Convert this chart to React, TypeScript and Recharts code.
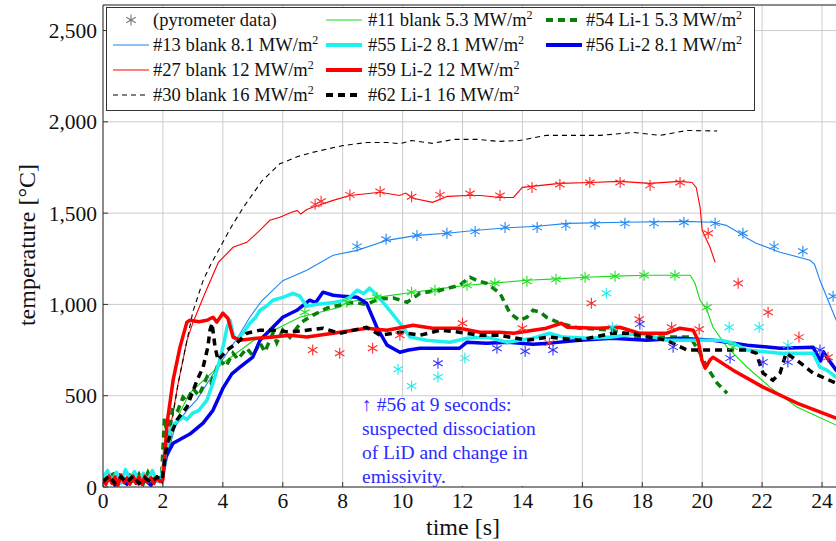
import React from "react";
import {
  ComposedChart,
  Line,
  Scatter,
  XAxis,
  YAxis,
  CartesianGrid,
  ReferenceLine,
  Label,
} from "recharts";

type Pt = [number, number];

const FONT = "Liberation Serif";

const timeTicks = [0, 2, 4, 6, 8, 10, 12, 14, 16, 18, 20, 22, 24];
const tempTicks = [0, 500, 1000, 1500, 2000, 2500];

// #11 blank 5.3 MW/m2
const s11: Pt[] = [
  [0, 40], [0.3, 70], [0.6, 30], [0.9, 65], [1.2, 25], [1.5, 70], [1.8, 35], [2.0, 45],
  [2.3, 300], [2.6, 420], [2.9, 514], [3.47, 602], [4.0, 678], [5.0, 800], [5.9, 875],
  [6.57, 930], [7.9, 985], [8.14, 1012], [9.2, 1040], [10.35, 1067], [11.2, 1085],
  [12.15, 1105], [13.1, 1118], [14.15, 1132], [15.1, 1140], [16.15, 1149], [17.1, 1155],
  [18.15, 1160], [19.6, 1160], [19.76, 1116], [19.93, 1023], [20.16, 968], [20.36, 875],
  [20.83, 766], [21.5, 656], [22.26, 547], [23.16, 438], [24.47, 339], [25, 310],
];

// #13 blank 8.1 MW/m2
const s13: Pt[] = [
  [0, 30], [0.4, 55], [0.8, 20], [1.2, 50], [1.6, 25], [2.0, 35], [2.2, 200], [2.4, 330],
  [2.8, 420], [3.14, 480], [3.6, 600], [4.0, 700], [4.5, 820], [4.9, 930], [5.3, 1020],
  [6.0, 1130], [6.8, 1187], [7.68, 1269], [8.48, 1296], [9.48, 1351], [10.48, 1378],
  [11.48, 1390], [12.48, 1406], [13.5, 1420], [14.5, 1428], [15.5, 1444], [17.4, 1450],
  [19.36, 1455], [20.36, 1450], [20.8, 1433], [21.2, 1395], [21.5, 1362], [21.8, 1335],
  [22.6, 1286], [23.6, 1242], [23.75, 1220], [23.93, 1132], [24.16, 1039], [24.47, 914],
  [25, 700],
];

// #27 blank 12 MW/m2
const s27: Pt[] = [
  [0, 40], [0.5, 25], [1, 55], [1.5, 30], [2.0, 45], [2.2, 280], [2.5, 560], [2.8, 800],
  [3.0, 900], [3.4, 1060], [3.85, 1230], [4.34, 1313], [4.8, 1340], [5.2, 1400],
  [5.57, 1461], [5.9, 1477], [6.3, 1505], [6.48, 1515], [6.6, 1495], [6.8, 1520],
  [7.0, 1532], [7.68, 1570], [8.24, 1597], [9.25, 1614], [9.9, 1597], [10.1, 1610],
  [10.35, 1581], [11.0, 1559], [11.5, 1592], [12.15, 1597], [12.6, 1597], [13.25, 1586],
  [13.7, 1586], [14.0, 1641], [15.25, 1663], [16.25, 1668], [17.25, 1674], [18.25, 1663],
  [19.26, 1674], [19.66, 1668], [19.8, 1641], [19.93, 1532], [20.0, 1406], [20.26, 1313],
  [20.43, 1231],
];

// #30 blank 16 MW/m2
const s30: Pt[] = [
  [0, 35], [0.5, 55], [1, 25], [1.5, 50], [2.0, 40], [2.1, 150], [2.5, 560], [3.0, 960],
  [3.34, 1130], [3.6, 1220], [4.0, 1340], [4.3, 1430], [4.7, 1535], [5.3, 1675],
  [5.9, 1770], [6.5, 1810], [7.0, 1833], [8.0, 1870], [8.8, 1887], [9.5, 1887],
  [9.9, 1880], [10.3, 1898], [11.0, 1882], [11.7, 1904], [12.5, 1904], [13.2, 1893],
  [13.9, 1898], [14.8, 1926], [16.6, 1926], [17.7, 1942], [18.6, 1926], [19.5, 1953],
  [20.5, 1950],
];

// #54 Li-1 5.3 MW/m2
const s54: Pt[] = [
  [0, 60], [0.15, 20], [0.3, 90], [0.45, 30], [0.6, 75], [0.75, 15], [0.9, 85], [1.05, 25],
  [1.2, 70], [1.35, 20], [1.5, 80], [1.65, 30], [1.8, 65], [1.95, 35], [2.05, 380],
  [2.15, 280], [2.34, 438], [2.5, 420], [2.67, 492], [2.8, 470], [3.0, 540], [3.2, 500],
  [3.47, 602], [3.6, 570], [3.9, 695], [4.1, 660], [4.34, 733], [4.5, 700], [4.8, 760],
  [5.0, 720], [5.24, 790], [5.4, 740], [5.67, 842], [5.8, 790], [6.0, 860], [6.24, 820],
  [6.6, 900], [7.0, 940], [7.47, 980], [8.0, 1000], [8.4, 1010], [8.8, 1000], [9.2, 1030],
  [9.7, 1035], [10.15, 1012], [10.58, 1061], [11.25, 1078], [11.9, 1105], [12.25, 1149],
  [12.5, 1130], [12.8, 1116], [13.25, 1061], [13.58, 952], [13.9, 913], [14.15, 930],
  [14.35, 968], [14.6, 957], [14.8, 930], [15.25, 897], [15.9, 870], [17.0, 859],
  [17.9, 821], [18.8, 821], [19.6, 821], [19.93, 733], [20.16, 656], [20.5, 569],
  [20.83, 514],
];

// #55 Li-2 8.1 MW/m2
const s55: Pt[] = [
  [0, 50], [0.15, 90], [0.3, 30], [0.45, 80], [0.6, 20], [0.75, 95], [0.9, 40], [1.05, 85],
  [1.2, 25], [1.35, 75], [1.5, 35], [1.65, 90], [1.8, 30], [1.95, 60], [2.1, 200],
  [2.24, 312], [2.4, 350], [2.67, 383], [2.8, 370], [3.0, 405], [3.2, 420], [3.47, 476],
  [3.67, 569], [3.9, 695], [4.05, 800], [4.14, 875], [4.24, 913], [4.35, 830], [4.47, 804],
  [4.67, 842], [4.9, 897], [5.1, 930], [5.24, 968], [5.45, 990], [5.67, 1023], [6.0, 1039],
  [6.34, 1061], [6.57, 1045], [6.8, 990], [7.1, 1000], [7.47, 1006], [7.68, 1010],
  [8.0, 1020], [8.24, 1039], [8.48, 1078], [8.7, 1060], [8.9, 1089], [9.14, 1050],
  [9.48, 985], [9.91, 897], [10.25, 821], [10.8, 804], [11.58, 793], [12.15, 815],
  [12.8, 821], [13.5, 793], [14.35, 815], [14.9, 842], [15.35, 821], [16.2, 815],
  [17.0, 821], [17.9, 842], [18.8, 804], [19.7, 804], [20.6, 804], [21.0, 790], [21.5, 750],
  [22.6, 733], [23.7, 733], [23.8, 700], [23.93, 656], [24.16, 640], [24.47, 602], [25, 570],
];

// #56 Li-2 8.1 MW/m2
const s56: Pt[] = [
  [0, 20], [0.2, 50], [0.4, 10], [0.6, 45], [0.8, 15], [1.0, 55], [1.2, 20], [1.4, 40],
  [1.6, 10], [1.8, 45], [1.97, 30], [2.05, 150], [2.34, 240], [2.9, 290], [3.34, 350],
  [3.67, 420], [4.0, 540], [4.3, 620], [4.57, 656], [5.0, 711], [5.24, 804], [5.57, 859],
  [6.0, 930], [6.47, 968], [6.9, 1023], [7.1, 1010], [7.34, 1067], [7.68, 1050], [8.0, 1045],
  [8.48, 1039], [8.8, 1006], [9.14, 875], [9.48, 777], [9.91, 738], [10.2, 750],
  [10.58, 760], [11.25, 760], [11.9, 760], [12.15, 793], [12.8, 788], [13.5, 793],
  [14.35, 782], [14.9, 788], [15.9, 804], [17.0, 815], [18.15, 804], [19.26, 815],
  [20.36, 804], [21.5, 777], [22.6, 760], [23.7, 766], [23.85, 720], [23.95, 690],
  [24.05, 740], [24.16, 710], [24.47, 640], [25, 590],
];

// #59 Li-2 12 MW/m2
const s59: Pt[] = [
  [0, 40], [0.1, 15], [0.2, 60], [0.3, 20], [0.4, 55], [0.5, 10], [0.6, 65], [0.7, 25],
  [0.8, 50], [0.9, 15], [1.0, 60], [1.1, 20], [1.2, 55], [1.3, 15], [1.4, 60], [1.5, 25],
  [1.6, 50], [1.7, 20], [1.8, 55], [1.9, 30], [2.0, 40], [2.14, 350], [2.34, 585],
  [2.57, 766], [2.8, 903], [2.9, 913], [3.2, 905], [3.47, 913], [3.67, 930], [3.8, 903],
  [4.0, 952], [4.17, 924], [4.34, 821], [4.57, 804], [5.14, 815], [5.67, 821], [6.24, 831],
  [6.8, 821], [7.68, 842], [8.8, 870], [9.48, 859], [10.35, 886], [11.0, 870], [11.9, 870],
  [12.58, 848], [13.25, 848], [13.7, 842], [14.8, 870], [15.3, 897], [15.5, 875],
  [16.5, 870], [17.25, 875], [17.9, 842], [18.8, 842], [19.26, 870], [19.7, 859],
  [19.86, 804], [19.99, 695], [20.1, 651], [20.26, 695], [20.36, 711], [21.03, 640],
  [22.03, 547], [23.16, 460], [24.47, 377], [25, 350],
];

// #62 Li-1 16 MW/m2
const s62: Pt[] = [
  [0, 30], [0.2, 60], [0.4, 20], [0.6, 55], [0.8, 25], [1.0, 60], [1.2, 20], [1.4, 50],
  [1.6, 25], [1.8, 55], [1.97, 40], [2.14, 240], [2.47, 367], [2.8, 438], [3.14, 585],
  [3.34, 656], [3.5, 766], [3.57, 859], [3.64, 897], [3.74, 766], [3.84, 695], [4.14, 750],
  [4.47, 788], [4.8, 842], [5.24, 859], [5.67, 859], [6.24, 848], [6.8, 859], [7.34, 870],
  [7.9, 842], [8.8, 875], [9.25, 831], [9.91, 848], [10.58, 831], [11.25, 859],
  [11.9, 848], [12.58, 831], [13.25, 831], [14.15, 804], [14.9, 821], [15.9, 804],
  [17.0, 842], [17.6, 842], [18.8, 804], [19.5, 750], [20.36, 750], [21.5, 750],
  [21.8, 733], [22.03, 624], [22.36, 585], [22.6, 624], [22.8, 733], [23.16, 695],
  [23.7, 624], [24.47, 569], [25, 540],
];

// pyrometer readings
const pyroRed: Pt[] = [
  [7.08, 1548], [7.28, 1565], [8.24, 1600], [9.25, 1618], [10.3, 1590], [11.25, 1600],
  [12.25, 1608], [13.25, 1597], [14.32, 1641], [15.25, 1657], [16.25, 1668], [17.26, 1668],
  [18.26, 1652], [19.26, 1668], [7.0, 750], [7.9, 733], [9.0, 760], [9.91, 831],
  [12.0, 897], [14.0, 870], [14.9, 788], [16.3, 1006], [17.9, 919], [18.98, 875],
  [19.9, 864], [20.2, 1390], [21.2, 1116], [22.2, 957], [23.23, 821], [24.2, 711],
];
const pyroBlue13: Pt[] = [
  [8.48, 1318], [9.45, 1357], [10.48, 1378], [11.48, 1390], [12.42, 1400], [13.42, 1422],
  [14.49, 1422], [15.45, 1433], [16.42, 1439], [17.42, 1444], [18.39, 1444], [19.39, 1450],
  [20.43, 1444], [21.36, 1390], [22.4, 1318], [23.36, 1291], [24.37, 1045],
];
const pyroGreen11: Pt[] = [
  [6.74, 957], [8.14, 1012], [9.14, 1039], [10.3, 1067], [11.08, 1078], [12.15, 1105],
  [13.08, 1116], [14.15, 1127], [15.12, 1138], [16.09, 1149], [17.09, 1154], [18.06, 1160],
  [19.09, 1160], [20.16, 985], [21.03, 766],
];
const pyroCyan55: Pt[] = [
  [9.85, 645], [10.3, 553], [11.18, 602], [12.08, 706], [16.8, 1061], [17.0, 875],
  [20.9, 875], [21.9, 875], [22.86, 777],
];
const pyroBlue56: Pt[] = [
  [11.18, 678], [13.15, 760], [14.09, 744], [15.02, 750], [17.92, 892], [19.03, 766],
  [20.93, 706], [22.03, 684], [22.86, 684], [23.93, 750],
];

const noteLines = [
  "\u2191 #56 at 9 seconds:",
  "suspected dissociation",
  "of LiD and change in",
  "emissivity.",
];

const rows = (pts: Pt[]) => pts.map(([t, T]) => ({ t, T }));

const Asterisk = ({ cx, cy, color }: { cx: number; cy: number; color: string }) => {
  const r = 5.5;
  const dx = r * Math.cos(Math.PI / 6);
  const dy = r * Math.sin(Math.PI / 6);
  return (
    <g stroke={color} strokeWidth={1.1}>
      <line x1={cx} y1={cy - r} x2={cx} y2={cy + r} />
      <line x1={cx - dx} y1={cy - dy} x2={cx + dx} y2={cy + dy} />
      <line x1={cx - dx} y1={cy + dy} x2={cx + dx} y2={cy - dy} />
    </g>
  );
};

type Entry = {
  label: string;
  sup: boolean;
  color: string;
  width: number;
  dash?: string;
  marker?: boolean;
  col: number;
  row: number;
};

const legendEntries: Entry[] = [
  { label: "(pyrometer data)", sup: false, color: "#777", width: 1, marker: true, col: 0, row: 0 },
  { label: "#13 blank 8.1 MW/m", sup: true, color: "#1f86f0", width: 1.2, col: 0, row: 1 },
  { label: "#27 blank 12 MW/m", sup: true, color: "#ff0000", width: 1.2, col: 0, row: 2 },
  { label: "#30 blank 16 MW/m", sup: true, color: "#000", width: 1.2, dash: "5 4", col: 0, row: 3 },
  { label: "#11 blank 5.3 MW/m", sup: true, color: "#14dc14", width: 1.2, col: 1, row: 0 },
  { label: "#55 Li-2 8.1 MW/m", sup: true, color: "#1ef0f0", width: 4, col: 1, row: 1 },
  { label: "#59 Li-2 12 MW/m", sup: true, color: "#ff0000", width: 4, col: 1, row: 2 },
  { label: "#62 Li-1 16 MW/m", sup: true, color: "#000", width: 4, dash: "7 5", col: 1, row: 3 },
  { label: "#54 Li-1 5.3 MW/m", sup: true, color: "#0a7d0a", width: 4, dash: "7 5", col: 2, row: 0 },
  { label: "#56 Li-2 8.1 MW/m", sup: true, color: "#0000ee", width: 4, col: 2, row: 1 },
];

const colSwatch = [6, 219, 439];
const colText = [46, 261, 479];

const LegendBox = () => (
  <div
    style={{
      position: "absolute",
      left: 106,
      top: 7,
      width: 647,
      height: 102,
      border: "1px solid #333",
      background: "#fff",
      fontFamily: FONT,
      fontSize: 18.5,
      color: "#111",
    }}
  >
    {legendEntries.map((e) => {
      const cy = 12 + e.row * 25;
      return (
        <React.Fragment key={e.label}>
          <svg
            width={36}
            height={12}
            style={{ position: "absolute", left: colSwatch[e.col], top: cy - 6 }}
          >
            {e.marker ? (
              <Asterisk cx={18} cy={6} color={e.color} />
            ) : (
              <line
                x1={0}
                y1={6}
                x2={36}
                y2={6}
                stroke={e.color}
                strokeWidth={e.width}
                strokeDasharray={e.dash}
              />
            )}
          </svg>
          <span
            style={{
              position: "absolute",
              left: colText[e.col],
              top: cy - 12,
              lineHeight: "24px",
              whiteSpace: "nowrap",
              fontFamily: FONT,
            }}
          >
            {e.label}
            {e.sup && <sup style={{ fontSize: 12, verticalAlign: "7px", lineHeight: 0 }}>2</sup>}
          </span>
        </React.Fragment>
      );
    })}
  </div>
);

const tickStyle = { fill: "#111", fontSize: 21.5, fontFamily: FONT };

export default function App() {
  const thin = [
    { id: "s11", data: s11, color: "#14dc14", w: 1.1 },
    { id: "s13", data: s13, color: "#1f86f0", w: 1.1 },
    { id: "s27", data: s27, color: "#ff0000", w: 1.1 },
  ];
  return (
    <div
      style={{
        position: "absolute",
        left: 0,
        top: 0,
        width: 836,
        height: 541,
        overflow: "hidden",
        background: "#fff",
        fontFamily: FONT,
      }}
    >
      <ComposedChart
        width={870}
        height={541}
        margin={{ top: 5, right: 18, left: 0, bottom: 0 }}
        style={{ fontFamily: FONT }}
      >
        <CartesianGrid stroke="#cccccc" strokeWidth={1} />
        <XAxis
          dataKey="t"
          type="number"
          domain={[0, 25]}
          ticks={timeTicks}
          allowDataOverflow
          height={54}
          tickSize={-5}
          tickMargin={11}
          axisLine={{ stroke: "#333" }}
          tickLine={{ stroke: "#333" }}
          tick={tickStyle}
        >
          <Label
            content={() => (
              <text x={463} y={535} textAnchor="middle" fontSize={24} fontFamily={FONT} fill="#111">
                time [s]
              </text>
            )}
          />
        </XAxis>
        <YAxis
          dataKey="T"
          type="number"
          domain={[0, 2640]}
          ticks={tempTicks}
          allowDataOverflow
          width={103}
          tickSize={-5}
          tickMargin={11}
          axisLine={{ stroke: "#333" }}
          tickLine={{ stroke: "#333" }}
          tick={tickStyle}
          tickFormatter={(v: number) => v.toLocaleString("en-US")}
        >
          <Label
            content={() => (
              <text
                x={27}
                y={245}
                transform="rotate(-90 27 245)"
                textAnchor="middle"
                dominantBaseline="central"
                fontSize={24}
                fontFamily={FONT}
                fill="#111"
              >
                temperature [°C]
              </text>
            )}
          />
        </YAxis>
        <ReferenceLine y={2640} stroke="#333" strokeWidth={1} />

        {thin.map((s) => (
          <Line
            key={s.id}
            data={rows(s.data)}
            dataKey="T"
            type="linear"
            stroke={s.color}
            strokeWidth={s.w}
            dot={false}
            activeDot={false}
            isAnimationActive={false}
          />
        ))}
        <Line
          data={rows(s30)}
          dataKey="T"
          type="linear"
          stroke="#000"
          strokeWidth={1.1}
          strokeDasharray="5 4"
          dot={false}
          activeDot={false}
          isAnimationActive={false}
        />
        <Line
          data={rows(s54)}
          dataKey="T"
          type="linear"
          stroke="#0a7d0a"
          strokeWidth={3.5}
          strokeDasharray="7 5"
          dot={false}
          activeDot={false}
          isAnimationActive={false}
        />
        <Line
          data={rows(s56)}
          dataKey="T"
          type="linear"
          stroke="#0000ee"
          strokeWidth={3.5}
          strokeLinejoin="round"
          dot={false}
          activeDot={false}
          isAnimationActive={false}
        />
        <Line
          data={rows(s55)}
          dataKey="T"
          type="linear"
          stroke="#1ef0f0"
          strokeWidth={3.5}
          strokeLinejoin="round"
          dot={false}
          activeDot={false}
          isAnimationActive={false}
        />
        <Line
          data={rows(s59)}
          dataKey="T"
          type="linear"
          stroke="#ff0000"
          strokeWidth={3.5}
          strokeLinejoin="round"
          dot={false}
          activeDot={false}
          isAnimationActive={false}
        />
        <Line
          data={rows(s62)}
          dataKey="T"
          type="linear"
          stroke="#000"
          strokeWidth={3.5}
          strokeDasharray="7 5"
          dot={false}
          activeDot={false}
          isAnimationActive={false}
        />

        {[
          { id: "pr", data: pyroRed, color: "#ff2a2a" },
          { id: "pb13", data: pyroBlue13, color: "#1f86f0" },
          { id: "pg", data: pyroGreen11, color: "#22e022" },
          { id: "pc", data: pyroCyan55, color: "#22eaea" },
          { id: "pb56", data: pyroBlue56, color: "#3030ff" },
        ].map((p) => (
          <Scatter
            key={p.id}
            data={rows(p.data)}
            dataKey="T"
            isAnimationActive={false}
            shape={(props: any) => <Asterisk cx={props.cx} cy={props.cy} color={p.color} />}
          />
        ))}
      </ComposedChart>

      <LegendBox />

      <div
        style={{
          position: "absolute",
          left: 357,
          top: 397,
          width: 180,
          height: 89,
          background: "#fff",
          color: "#2b2bff",
          fontFamily: FONT,
          fontSize: 19.5,
          lineHeight: "24px",
          paddingLeft: 5,
          boxSizing: "border-box",
        }}
      >
        {noteLines.map((l, i) => (
          <div key={i} style={{ whiteSpace: "nowrap", marginTop: i === 0 ? -4 : 0 }}>
            {l}
          </div>
        ))}
      </div>
    </div>
  );
}
